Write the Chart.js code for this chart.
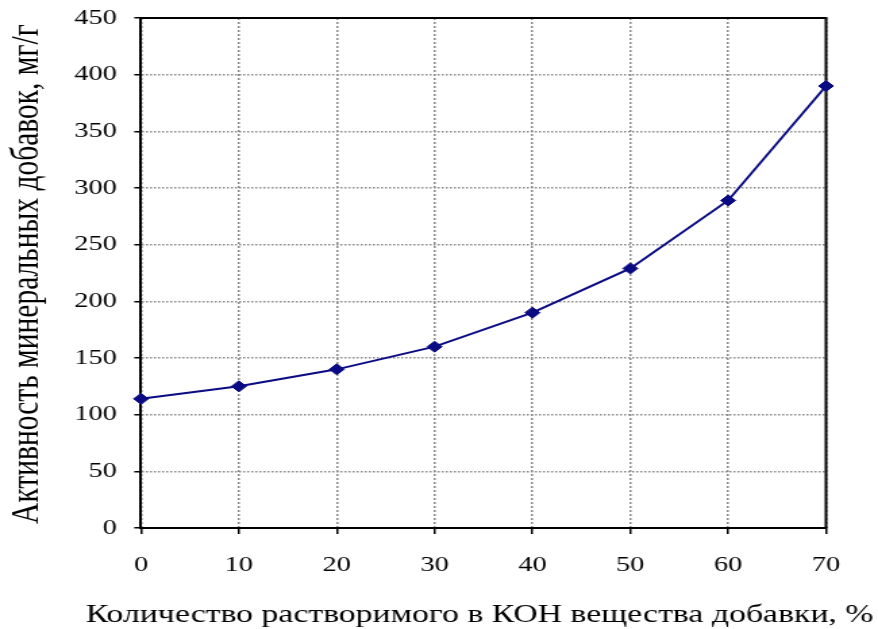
<!DOCTYPE html>
<html lang="ru">
<head>
<meta charset="utf-8">
<title>Активность минеральных добавок</title>
<script src="https://cdn.jsdelivr.net/npm/chart.js@4/dist/chart.umd.min.js"></script>
<style>
  html, body { margin: 0; padding: 0; background: #ffffff; overflow: hidden; }
  #wrap { position: absolute; left: 0; top: 0; width: 650px; height: 629px;
          transform: scaleX(1.3508); transform-origin: 0 0; }
  canvas { display: block; }
</style>
</head>
<body>
<div id="wrap"><canvas id="chart" width="650" height="629"></canvas></div>
<script>
// Доля растворимого в КОН вещества добавки, %
const kohShare = [0, 10, 20, 30, 40, 50, 60, 70];
// Активность минеральных добавок, мг/г
const activity = [114, 125, 140, 160, 190, 229, 289, 390];

const xTicks = [0, 10, 20, 30, 40, 50, 60, 70];
const yTicks = [0, 50, 100, 150, 200, 250, 300, 350, 400, 450];

const xTitle = 'Количество растворимого в КОН вещества добавки, %';
const yTitle = 'Активность минеральных добавок, мг/г';

const serif = '"Liberation Serif", "Times New Roman", serif';

// Frame on the top and right sides of the plot area
const framePlugin = {
  id: 'frame',
  beforeDatasetsDraw(chart) {
    const { ctx, chartArea: a } = chart;
    ctx.save();
    ctx.strokeStyle = '#000000';
    ctx.lineWidth = 2;
    ctx.beginPath();
    ctx.moveTo(a.left, a.top);
    ctx.lineTo(a.right, a.top);
    ctx.lineTo(a.right, a.bottom);
    ctx.stroke();
    ctx.restore();
  }
};

// Axis titles, drawn free of the scale width limits
const titlesPlugin = {
  id: 'axisTitles',
  afterDraw(chart) {
    const { ctx } = chart;
    ctx.save();
    ctx.fillStyle = '#000000';
    ctx.textAlign = 'center';
    ctx.textBaseline = 'alphabetic';
    ctx.font = '25px ' + serif;
    ctx.fillText(xTitle, 355, 622);
    ctx.translate(27.5, 274);
    ctx.rotate(-Math.PI / 2);
    ctx.font = '29.5px ' + serif;
    ctx.fillText(yTitle, 0, 0);
    ctx.restore();
  }
};

new Chart(document.getElementById('chart'), {
  type: 'line',
  data: {
    datasets: [{
      data: kohShare.map((x, i) => ({ x, y: activity[i] })),
      borderColor: '#0a0a82',
      backgroundColor: '#0a0a82',
      borderWidth: 2,
      pointStyle: 'rectRot',
      pointRadius: 5.5,
      pointBorderWidth: 1,
      pointBackgroundColor: '#0a0a82',
      pointBorderColor: '#0a0a82',
      tension: 0,
      fill: false,
      clip: false
    }]
  },
  options: {
    responsive: false,
    animation: false,
    devicePixelRatio: 1,
    layout: { padding: { top: 18, right: 38.5, left: 0, bottom: 0 } },
    plugins: { legend: { display: false }, tooltip: { enabled: false } },
    scales: {
      x: {
        type: 'linear',
        min: 0, max: 70,
        afterBuildTicks(scale) { scale.ticks = xTicks.map(v => ({ value: v })); },
        afterFit(scale) {
          scale.height = 101;
          scale.paddingLeft = 0; scale.paddingRight = 0;
        },
        grid: { color: '#8a8a8a', lineWidth: 1.5, tickLength: 6, tickColor: '#000000', tickWidth: 1.5 },
        border: { display: true, color: '#000000', width: 2, dash: [2, 2] },
        ticks: { color: '#000000', padding: 19, maxRotation: 0,
                 font: { family: serif, size: 21 } },
        title: { display: false }
      },
      y: {
        type: 'linear',
        min: 0, max: 450,
        afterBuildTicks(scale) { scale.ticks = yTicks.map(v => ({ value: v })); },
        afterFit(scale) {
          scale.width = 104.4;
          scale.paddingTop = 0; scale.paddingBottom = 0;
        },
        grid: { color: '#8a8a8a', lineWidth: 1.5, tickLength: 5, tickColor: '#000000', tickWidth: 1.5 },
        border: { display: true, color: '#000000', width: 2, dash: [1.5, 1.5] },
        ticks: { color: '#000000', padding: 13,
                 font: { family: serif, size: 21 } },
        title: { display: false }
      }
    }
  },
  plugins: [framePlugin, titlesPlugin]
});
</script>
</body>
</html>
